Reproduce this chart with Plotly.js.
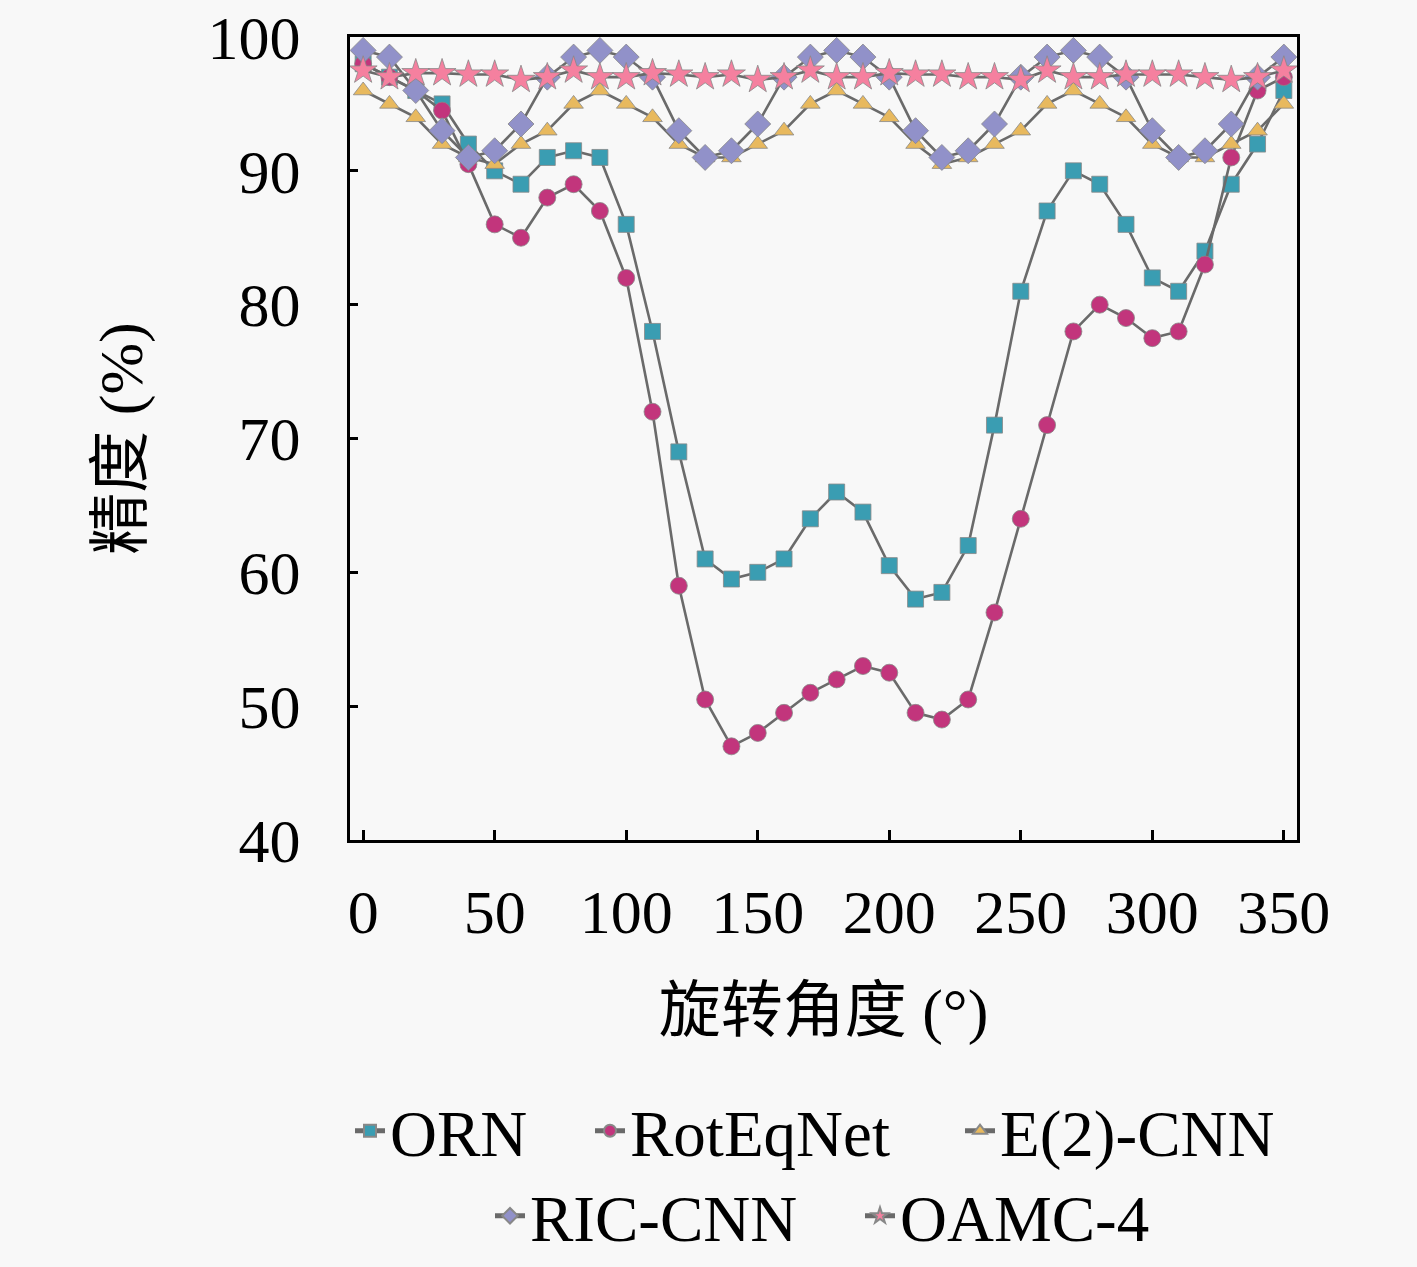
<!DOCTYPE html>
<html>
<head>
<meta charset="utf-8">
<script src="https://cdn.plot.ly/plotly-3.0.1.min.js"></script>
<style>
    html, body { margin: 0; padding: 0; background: #f8f8f8; }
    #chart { width: 1417px; height: 1267px; }
</style>
</head>
<body>
<div id="chart"></div>
<script>
// rotation angle (deg) and accuracy (%) per model
const angles = [0, 10, 20, 30, 40, 50, 60, 70, 80, 90, 100, 110, 120, 130, 140, 150, 160, 170,
                180, 190, 200, 210, 220, 230, 240, 250, 260, 270, 280, 290, 300, 310, 320, 330, 340, 350];

const orn = [98, 97, 96, 95, 92, 90, 89, 91, 91.5, 91, 86, 78, 69, 61, 59.5, 60, 61, 64,
             66, 64.5, 60.5, 58, 58.5, 62, 71, 81, 87, 90, 89, 86, 82, 81, 84, 89, 92, 96];
const rotEqNet = [98, 97, 96, 94.5, 90.5, 86, 85, 88, 89, 87, 82, 72, 59, 50.5, 47, 48, 49.5, 51,
                  52, 53, 52.5, 49.5, 49, 50.5, 57, 64, 71, 78, 80, 79, 77.5, 78, 83, 91, 96, 97];
const e2cnn = [96, 95, 94, 92, 91, 90.5, 92, 93, 95, 96, 95, 94, 92, 91, 91, 92, 93, 95,
               96, 95, 94, 92, 90.5, 91, 92, 93, 95, 96, 95, 94, 92, 91, 91, 92, 93, 95];
const ricCnn = [99, 98.5, 96, 93, 91, 91.5, 93.5, 97, 98.5, 99, 98.5, 97, 93, 91, 91.5, 93.5, 97, 98.5,
                99, 98.5, 97, 93, 91, 91.5, 93.5, 97, 98.5, 99, 98.5, 97, 93, 91, 91.5, 93.5, 97, 98.5];
const oamc4 = [97.5, 97, 97.3, 97.3, 97.2, 97.2, 96.8, 97, 97.5, 97, 97, 97.3, 97.2, 97, 97.2, 96.8, 97, 97.5,
               97, 97, 97.3, 97.2, 97.2, 97, 97, 96.8, 97.5, 97, 97, 97.2, 97.2, 97.2, 97, 96.8, 97, 97.5];

const xTicks = [0, 50, 100, 150, 200, 250, 300, 350];
const yTicks = [40, 50, 60, 70, 80, 90, 100];

const serif = 'Liberation Serif, Noto Sans CJK SC, serif';
const lineGrey = '#6a6a6a';

function series(name, y, symbol, color, size, legendId) {
    return {
        x: angles,
        y: y,
        name: name,
        type: 'scatter',
        mode: 'lines+markers',
        cliponaxis: false,
        legend: legendId,
        line: { color: lineGrey, width: 2.6 },
        marker: { symbol: symbol, color: color, size: size, line: { color: '#888', width: 0.8 } }
    };
}

const data = [
    series('ORN', orn, 'square', '#3a9db2', 16, 'legend'),
    series('RotEqNet', rotEqNet, 'circle', '#c2357c', 17, 'legend2'),
    series('E(2)-CNN', e2cnn, 'triangle-up', '#e8b95e', 17, 'legend3'),
    series('RIC-CNN', ricCnn, 'diamond', '#9191c9', 20, 'legend4'),
    series('OAMC-4', oamc4, 'star', '#f5809f', 21, 'legend5')
];

// one legend per entry so each can sit where the reference puts it
function legendAt(px, py) {
    return {
        orientation: 'h',
        xref: 'container', yref: 'container',
        x: px / 1417, xanchor: 'left',
        y: 1 - py / 1267, yanchor: 'middle',
        bgcolor: 'rgba(0,0,0,0)',
        font: { family: serif, size: 65, color: '#000' },
        itemsizing: 'constant'
    };
}

const layout = {
    width: 1417,
    height: 1267,
    paper_bgcolor: '#f8f8f8',
    plot_bgcolor: '#f8f8f8',
    margin: { l: 350, r: 120, t: 37, b: 427 },
    showlegend: true,
    xaxis: {
        range: [-5, 355],
        tickvals: xTicks,
        ticks: 'inside',
        ticklen: 10,
        tickwidth: 3,
        tickcolor: '#000',
        showgrid: false,
        zeroline: false,
        showline: true,
        mirror: true,
        linecolor: '#000',
        linewidth: 3,
        automargin: false,
        ticklabelstandoff: 16,
        tickfont: { family: serif, size: 62, color: '#000' },
        title: { text: '旋转角度 (°)', standoff: 44, font: { family: serif, size: 62, color: '#000' } }
    },
    yaxis: {
        range: [40, 100],
        tickvals: yTicks,
        ticks: 'inside',
        ticklen: 8,
        tickwidth: 3,
        tickcolor: '#000',
        showgrid: false,
        zeroline: false,
        showline: true,
        mirror: true,
        linecolor: '#000',
        linewidth: 3,
        automargin: false,
        ticklabelstandoff: 34,
        tickfont: { family: serif, size: 62, color: '#000' },
        title: { text: '精度 (%)', standoff: 45, font: { family: serif, size: 62, color: '#000' } }
    },
    legend: legendAt(350, 1131),
    legend2: legendAt(590, 1131),
    legend3: legendAt(960, 1131),
    legend4: legendAt(490, 1216),
    legend5: legendAt(860, 1216)
};

Plotly.newPlot('chart', data, layout, { displayModeBar: false, responsive: false });
</script>
</body>
</html>
